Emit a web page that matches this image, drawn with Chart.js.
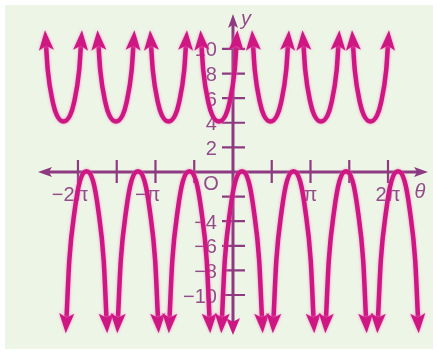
<!DOCTYPE html>
<html>
<head>
<meta charset="utf-8">
<script src="https://cdn.jsdelivr.net/npm/chart.js@4.4.0/dist/chart.umd.min.js"></script>
<style>
  body { margin: 0; background: #fff; }
  canvas { display: block; }
</style>
</head>
<body>
<canvas id="myChart" width="438" height="356"></canvas>
<script>
// theta is kept in multiples of pi
const upperCenters = [-2.187, -1.510, -0.832, -0.181, 0.484, 1.135, 1.774];
const lowerCenters = [-1.890, -1.226, -0.561, 0.116, 0.781, 1.458, 2.129];

// one branch of each kind: [theta offset, y]
const upperShape = [[-0.225, 10.3], [-0.203, 8.3], [-0.135, 5.6], [-0.085, 4.6], [0, 4.1],
                    [0.085, 4.6], [0.135, 5.6], [0.203, 8.3], [0.225, 10.3]];
const lowerShape = [[-0.258, -11.9], [-0.222, -7.2], [-0.152, -3.1], [-0.085, -0.75], [0, 0.05],
                    [0.085, -0.75], [0.152, -3.1], [0.222, -7.2], [0.258, -11.9]];

const xTicks = [-2, -1.5, -1, -0.5, 0.5, 1, 1.5, 2];
const xTickLabels = ['−2π', '', '−π', '', '', 'π', '', '2π'];
const yTicks = [-10, -8, -6, -4, -2, 2, 4, 6, 8, 10];
const yTickLabels = ['−10', '−8', '−6', '−4', '', '2', '4', '6', '8', '10'];

const curveColor = '#cf1783';
const axisColor = '#8e3a80';
const labelColor = '#934b89';
const labelFont = '20px "Liberation Sans", Arial, sans-serif';
const italicFont = 'italic 20px "Liberation Sans", Arial, sans-serif';

const datasets = [];
upperCenters.forEach(c => datasets.push({ data: upperShape.map(p => ({ x: c + p[0], y: p[1] })) }));
lowerCenters.forEach(c => datasets.push({ data: lowerShape.map(p => ({ x: c + p[0], y: p[1] })) }));
datasets.forEach(d => Object.assign(d, {
  showLine: true,
  borderColor: curveColor,
  borderWidth: 4.5,
  pointRadius: 0,
  fill: false,
  cubicInterpolationMode: 'monotone'
}));

function arrowHead(ctx, tx, ty, ang, len, half, color) {
  ctx.save();
  ctx.translate(tx, ty);
  ctx.rotate(ang);
  ctx.beginPath();
  ctx.moveTo(0, 0);
  ctx.lineTo(-len, -half);
  ctx.lineTo(-len * 0.78, 0);
  ctx.lineTo(-len, half);
  ctx.closePath();
  ctx.fillStyle = color;
  ctx.fill();
  ctx.restore();
}

// axes, ticks, labels + arrow ends
const graphPaper = {
  id: 'graphPaper',
  beforeDraw(chart) {
    const { ctx } = chart;
    ctx.save();
    ctx.fillStyle = '#ffffff';
    ctx.fillRect(0, 0, chart.width, chart.height);
    ctx.fillStyle = '#edf5e7';
    ctx.fillRect(5, 5, 428, 344);
    ctx.restore();
  },
  beforeDatasetsDraw(chart) {
    const { ctx, scales: { x, y } } = chart;
    const x0 = x.getPixelForValue(0);
    const y0 = y.getPixelForValue(0);
    const xl = x.getPixelForValue(-2.516), xr = x.getPixelForValue(2.516);
    const yt = y.getPixelForValue(12.85), yb = y.getPixelForValue(-13.25);

    ctx.save();
    ctx.strokeStyle = axisColor;
    ctx.lineWidth = 3;
    ctx.beginPath();
    ctx.moveTo(xl + 6, y0); ctx.lineTo(xr - 6, y0);
    ctx.moveTo(x0, yt + 6); ctx.lineTo(x0, yb - 6);
    ctx.stroke();
    arrowHead(ctx, xr, y0, 0, 14, 5, axisColor);
    arrowHead(ctx, xl, y0, Math.PI, 14, 5, axisColor);
    arrowHead(ctx, x0, yt, -Math.PI / 2, 14, 5, axisColor);
    arrowHead(ctx, x0, yb, Math.PI / 2, 17, 7, curveColor);

    ctx.lineWidth = 2.2;
    ctx.beginPath();
    xTicks.forEach(v => {
      const px = x.getPixelForValue(v);
      ctx.moveTo(px, y0 - 12); ctx.lineTo(px, y0 + 11);
    });
    yTicks.forEach(v => {
      const py = y.getPixelForValue(v);
      ctx.moveTo(x0 - 11, py); ctx.lineTo(x0 + 12, py);
    });
    ctx.stroke();

    ctx.fillStyle = labelColor;
    ctx.font = labelFont;
    ctx.textBaseline = 'middle';
    ctx.textAlign = 'right';
    yTicks.forEach((v, i) => {
      if (yTickLabels[i]) ctx.fillText(yTickLabels[i], x0 - 16, y.getPixelForValue(v) + 2);
    });
    ctx.textAlign = 'center';
    const minusW = ctx.measureText('−').width;
    xTicks.forEach((v, i) => {
      const t = xTickLabels[i];
      if (!t) return;
      const off = t.startsWith('−') ? -minusW / 2 - 2 : 0;
      ctx.fillText(t, x.getPixelForValue(v) + off, y0 + 24);
    });
    ctx.fillText('O', x0 - 22, y0 + 13);
    ctx.font = italicFont;
    ctx.fillText('θ', xr - 8, y0 + 20);
    ctx.textAlign = 'left';
    ctx.fillText('y', x0 + 8, yt + 6);
    ctx.restore();

    // soft pink halo on the curves, as in the printed figure
    ctx.shadowColor = 'rgba(240, 120, 190, 0.75)';
    ctx.shadowBlur = 3;
  },
  afterDatasetsDraw(chart) {
    const { ctx } = chart;
    chart.data.datasets.forEach((ds, i) => {
      const pts = chart.getDatasetMeta(i).data;
      [[0, 1], [pts.length - 1, pts.length - 2]].forEach(([a, b]) => {
        const ang = Math.atan2(pts[a].y - pts[b].y, pts[a].x - pts[b].x);
        const tx = pts[a].x + Math.cos(ang) * 15;
        const ty = pts[a].y + Math.sin(ang) * 15;
        arrowHead(ctx, tx, ty, ang, 20, 7.5, curveColor);
      });
    });
    ctx.shadowColor = 'rgba(0, 0, 0, 0)';
    ctx.shadowBlur = 0;
  }
};

const config = {
  type: 'scatter',
  data: { datasets },
  options: {
    responsive: false,
    animation: false,
    layout: { padding: 0 },
    plugins: { legend: { display: false }, tooltip: { enabled: false } },
    scales: {
      x: { type: 'linear', min: -3.006, max: 2.645, display: false },
      y: { type: 'linear', min: -14.96, max: 13.98, display: false }
    }
  },
  plugins: [graphPaper]
};

const myChart = new Chart(document.getElementById('myChart'), config);
</script>
</body>
</html>
